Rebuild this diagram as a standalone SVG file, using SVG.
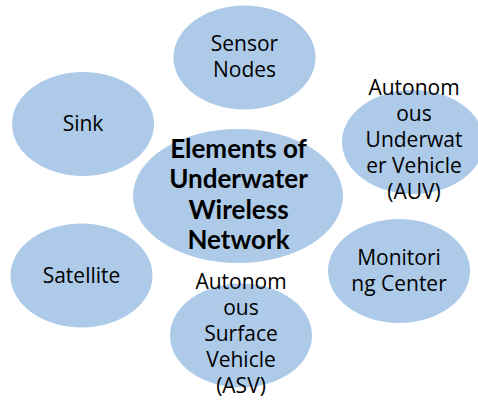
<svg xmlns="http://www.w3.org/2000/svg" width="478" height="401" viewBox="0 0 478 401">
<style>
.n{fill:#adcbe9;stroke:none}
.t{font-family:"Open Sans","Liberation Sans",sans-serif;font-size:21px;fill:#000;text-anchor:middle}
.b{font-family:Lato,"Liberation Sans",sans-serif;font-size:26px;font-weight:bold;fill:#000;text-anchor:middle}
</style>
<rect width="478" height="401" fill="#fff"/>
<g id="connectors"></g>
<g id="sensor-nodes">
<ellipse class="n" cx="244.5" cy="57.5" rx="71" ry="52"/>
<text class="t" x="244.5" y="51">Sensor</text>
<text class="t" x="244.5" y="77">Nodes</text>
</g>
<g id="sink">
<ellipse class="n" cx="83" cy="124" rx="71" ry="52"/>
<text class="t" x="83" y="131">Sink</text>
</g>
<g id="auv">
<ellipse class="n" cx="413" cy="142" rx="71" ry="52"/>
<text class="t" x="414" y="95">Autonom</text>
<text class="t" x="414" y="121">ous</text>
<text class="t" x="414" y="147">Underwat</text>
<text class="t" x="414" y="173">er Vehicle</text>
<text class="t" x="414" y="199">(AUV)</text>
</g>
<g id="monitoring-center">
<ellipse class="n" cx="399" cy="271" rx="71" ry="52"/>
<text class="t" x="399" y="265">Monitori</text>
<text class="t" x="399" y="291">ng Center</text>
</g>
<g id="satellite">
<ellipse class="n" cx="81.5" cy="275.5" rx="71" ry="52"/>
<text class="t" x="81.5" y="283">Satellite</text>
</g>
<g id="asv">
<ellipse class="n" cx="241" cy="335.5" rx="71" ry="52"/>
<text class="t" x="241" y="288.5">Autonom</text>
<text class="t" x="241" y="314.7">ous</text>
<text class="t" x="241" y="340.9">Surface</text>
<text class="t" x="241" y="367.1">Vehicle</text>
<text class="t" x="241" y="393.3">(ASV)</text>
</g>
<g id="center">
<ellipse class="n" cx="238" cy="196" rx="105" ry="67"/>
<text class="b" x="238.5" y="157.5">Elements of</text>
<text class="b" x="238.5" y="188">Underwater</text>
<text class="b" x="238.5" y="218.5">Wireless</text>
<text class="b" x="238.5" y="249">Network</text>
</g>
</svg>
